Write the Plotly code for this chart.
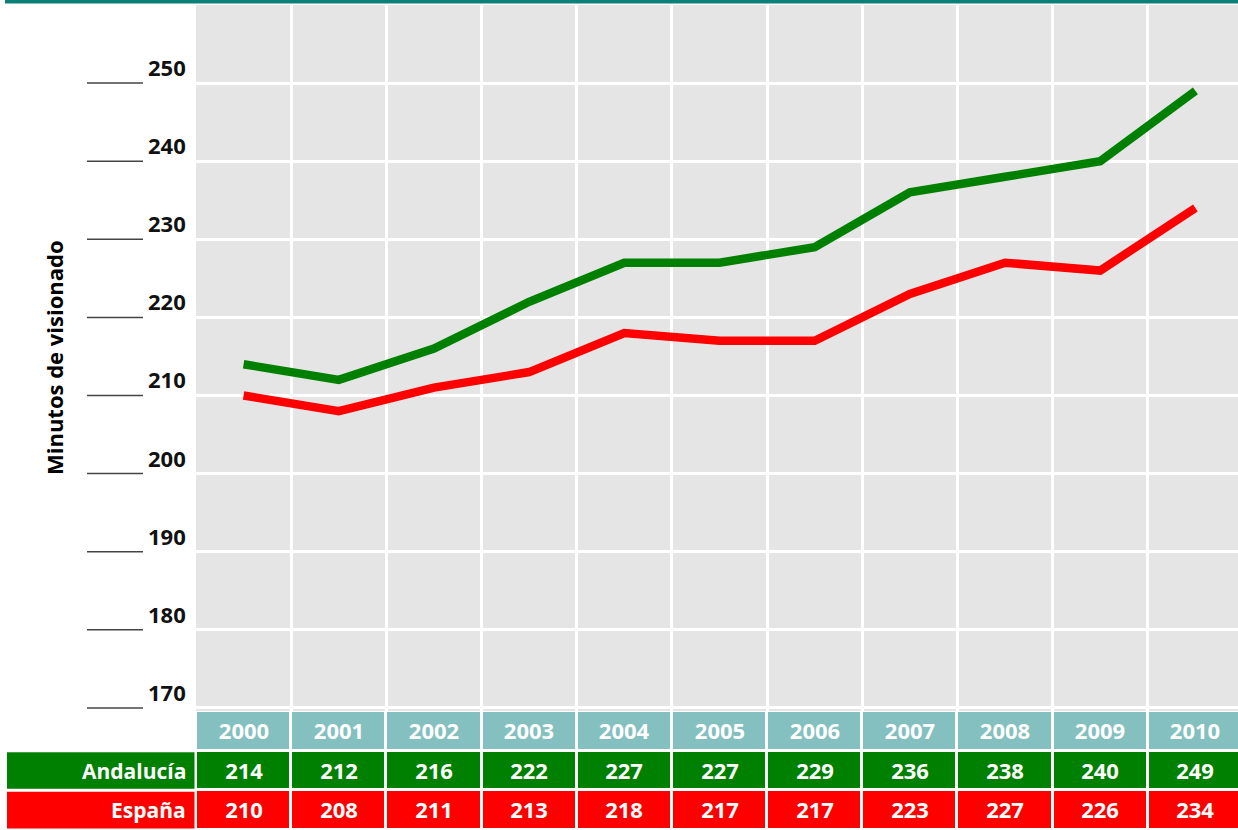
import plotly.graph_objects as go

# Data
years = [2000, 2001, 2002, 2003, 2004, 2005, 2006, 2007, 2008, 2009, 2010]
andalucia = [214, 212, 216, 222, 227, 227, 229, 236, 238, 240, 249]
espana = [210, 208, 211, 213, 218, 217, 217, 223, 227, 226, 234]
y_ticks = [170, 180, 190, 200, 210, 220, 230, 240, 250]
row_labels = ["Andalucía", "España"]
y_title = "Minutos de visionado"

# Page geometry (pixels)
W, H = 1238, 830
PLOT_LEFT = 196
PLOT_TOP = 5
PLOT_BOTTOM = 711

GREEN = "#008000"
RED = "#ff0000"
TEAL = "#84c0c0"
GRAY = "#e5e5e5"
FONT = "Open Sans"


def px_x(p):
    return (p - PLOT_LEFT) / (W - PLOT_LEFT)


def px_y(p):
    return (H - p) / H


fig = go.Figure()

# Table under the chart: year row, Andalucía row, España row
fig.add_trace(go.Heatmap(
    x=years,
    y=[0, 1, 2],
    z=[[0] * len(years), [1] * len(years), [2] * len(years)],
    text=[[str(v) for v in espana], [str(v) for v in andalucia], [str(y) for y in years]],
    texttemplate="<b>%{text}</b>",
    textfont=dict(family=FONT, size=22, color="white"),
    colorscale=[[0, RED], [0.5, GREEN], [1, TEAL]],
    zmin=0, zmax=2,
    xgap=3, ygap=3,
    showscale=False,
    hoverinfo="skip",
    yaxis="y2",
))

# Lines
fig.add_trace(go.Scatter(x=years, y=andalucia, mode="lines", name=row_labels[0],
                         line=dict(color=GREEN, width=8.5)))
fig.add_trace(go.Scatter(x=years, y=espana, mode="lines", name=row_labels[1],
                         line=dict(color=RED, width=8.5)))

shapes = [
    # gray plot background
    dict(type="rect", xref="paper", yref="paper", x0=0, x1=1,
         y0=px_y(PLOT_BOTTOM), y1=px_y(PLOT_TOP), fillcolor=GRAY,
         line=dict(width=0), layer="below"),
    # teal bar at the top
    dict(type="rect", xref="paper", yref="paper", x0=px_x(5), x1=1,
         y0=px_y(3.5), y1=1, fillcolor="#0b8078", line=dict(width=0)),
]

annotations = []

# y tick labels with short rules
for v in y_ticks:
    shapes.append(dict(type="line", xref="paper", yref="y", x0=px_x(87), x1=px_x(143),
                       y0=v, y1=v, line=dict(color="#444444", width=1.5)))
    annotations.append(dict(x=px_x(188), y=v, xref="paper", yref="y",
                            xanchor="right", yanchor="bottom", yshift=-1, showarrow=False,
                            text=f"<b>{v}</b>", font=dict(family=FONT, size=22, color="#111111")))

# row label cells
gap = 0.038
for i, (label, color) in enumerate([(row_labels[0], GREEN), (row_labels[1], RED)]):
    row = 1 - i
    shapes.append(dict(type="rect", xref="paper", yref="y2", x0=px_x(7), x1=px_x(194.5),
                       y0=row - 0.5 + gap, y1=row + 0.5 - gap, fillcolor=color,
                       line=dict(width=0)))
    annotations.append(dict(x=px_x(188), y=row, xref="paper", yref="y2",
                            xanchor="right", yanchor="middle", showarrow=False,
                            text=f"<b>{label}</b>", font=dict(family=FONT, size=21, color="white")))

# y axis title
annotations.append(dict(x=px_x(54), y=(px_y(PLOT_BOTTOM) + px_y(PLOT_TOP)) / 2,
                        xref="paper", yref="paper", xanchor="center", yanchor="middle",
                        textangle=-90, showarrow=False, text=f"<b>{y_title}</b>",
                        font=dict(family=FONT, size=22, color="black")))

fig.update_layout(
    width=W, height=H,
    margin=dict(l=PLOT_LEFT, r=0, t=0, b=0),
    paper_bgcolor="white",
    plot_bgcolor="white",
    showlegend=False,
    font=dict(family=FONT),
    xaxis=dict(
        domain=[0, 1],
        range=[1999.5, 2010.5 - 5 / 95.2],
        tickvals=[y + 0.5 for y in years[:-1]],
        showticklabels=False,
        showgrid=True, gridcolor="white", gridwidth=3,
        zeroline=False, showline=False, ticks="",
        fixedrange=True,
    ),
    yaxis=dict(
        domain=[px_y(PLOT_BOTTOM), px_y(PLOT_TOP)],
        range=[169.6, 260],
        tickvals=y_ticks,
        showticklabels=False,
        showgrid=True, gridcolor="white", gridwidth=3,
        zeroline=False, showline=False, ticks="",
        fixedrange=True,
    ),
    yaxis2=dict(
        domain=[0, px_y(PLOT_BOTTOM)],
        range=[-0.5, 2.5],
        anchor="x",
        visible=False,
        showgrid=False,
        fixedrange=True,
    ),
    shapes=shapes,
    annotations=annotations,
)

fig.write_html("out.html", config={"displayModeBar": False},
               post_script="document.body.style.margin='0';")
